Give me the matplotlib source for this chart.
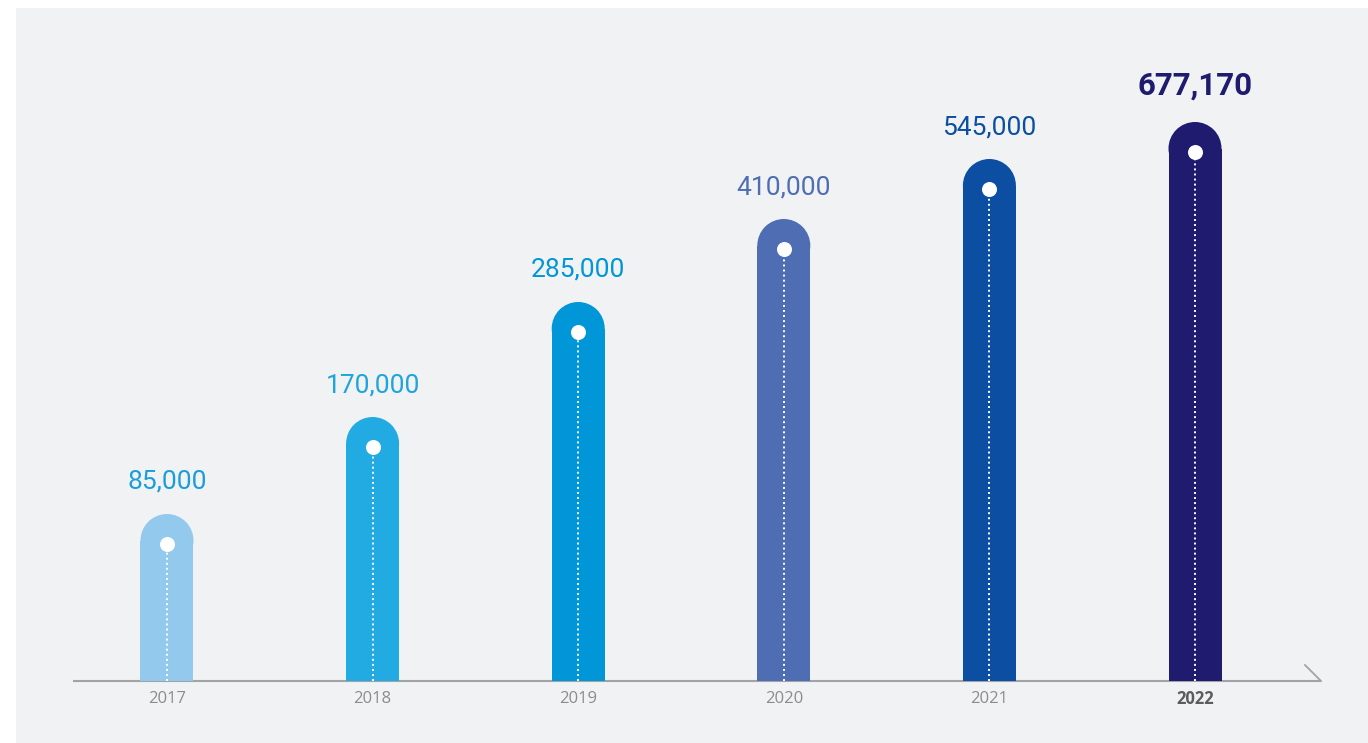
import matplotlib
matplotlib.use("Agg")
import matplotlib.pyplot as plt
from matplotlib.patches import Rectangle

# ---- data ----
years = ["2017", "2018", "2019", "2020", "2021", "2022"]
values = [85000, 170000, 285000, 410000, 545000, 677170]
# displayed bar heights to the rounded top (artistic, not proportional)
bar_heights = [167, 264, 379, 462, 522, 559]
bar_colors = ["#93c9ec", "#22abe2", "#0096d8", "#4e6db3", "#0c4ea2", "#1f1b6e"]
label_colors = ["#1a9edb", "#1ea5de", "#0096d8", "#4e6db3", "#0c4ea2", "#1f1b6e"]

W, H, DPI = 1368, 743, 100
fig = plt.figure(figsize=(W / DPI, H / DPI), dpi=DPI, facecolor="white")

ax = fig.add_axes([0, 0, 1, 1])
ax.patch.set_alpha(0)
ax.axis("off")
ax.add_patch(Rectangle((16 / W, 0), 1 - 16 / W, (H - 8) / H,
                       transform=ax.transAxes, facecolor="#f1f2f4",
                       edgecolor="none", zorder=-10))

step = (1195 - 167) / 5
x0 = 167
base = 62
ax.set_xlim(-x0 / step, (W - x0) / step)
ax.set_ylim(-base, H - base)

xs = list(range(len(years)))
bar_w_px = 53
r = bar_w_px / 2
bar_w = bar_w_px / step
caps = [h - r for h in bar_heights]
dots = [h - 29.5 for h in bar_heights]
ax.bar(xs, caps, width=bar_w, color=bar_colors, zorder=2, linewidth=0)
# rounded tops
ax.scatter(xs, caps, s=(bar_w_px * 72 / DPI) ** 2, c=bar_colors,
           marker="o", linewidths=0, zorder=2)
# dotted white guide lines and dots
for x, d in zip(xs, dots):
    ax.plot([x, x], [0, d], color="white", lw=1.4, ls=(0, (1, 1.6)), zorder=3)
ax.scatter(xs, dots, s=(15 * 72 / DPI) ** 2, c="white", linewidths=0, zorder=4)

# value labels
for i, (x, h, v) in enumerate(zip(xs, bar_heights, values)):
    last = i == len(xs) - 1
    ax.text(x, h + (36 if last else 32), f"{v:,}", ha="center", va="center",
            color=label_colors[i], family="Roboto",
            fontsize=22.5 if last else 19, fontweight="bold" if last else "normal",
            zorder=5)

# year labels
for i, (x, y) in enumerate(zip(xs, years)):
    last = i == len(xs) - 1
    ax.text(x, -18, y, ha="center", va="center", family="Open Sans",
            fontsize=12, color="#5c5c5c" if last else "#8c8c8c",
            fontweight="bold" if last else "normal", zorder=5)

# baseline with angled end
xl = (73 - x0) / step
xr = (1321 - x0) / step
xd = (1305 - x0) / step
ax.plot([xl, xr], [0, 0], color="#a3a3a3", lw=1.5, zorder=1, solid_capstyle="butt")
ax.plot([xr, xd], [0, 16], color="#a3a3a3", lw=1.3, zorder=1)

fig.savefig("out.png", dpi=DPI, facecolor="white")
